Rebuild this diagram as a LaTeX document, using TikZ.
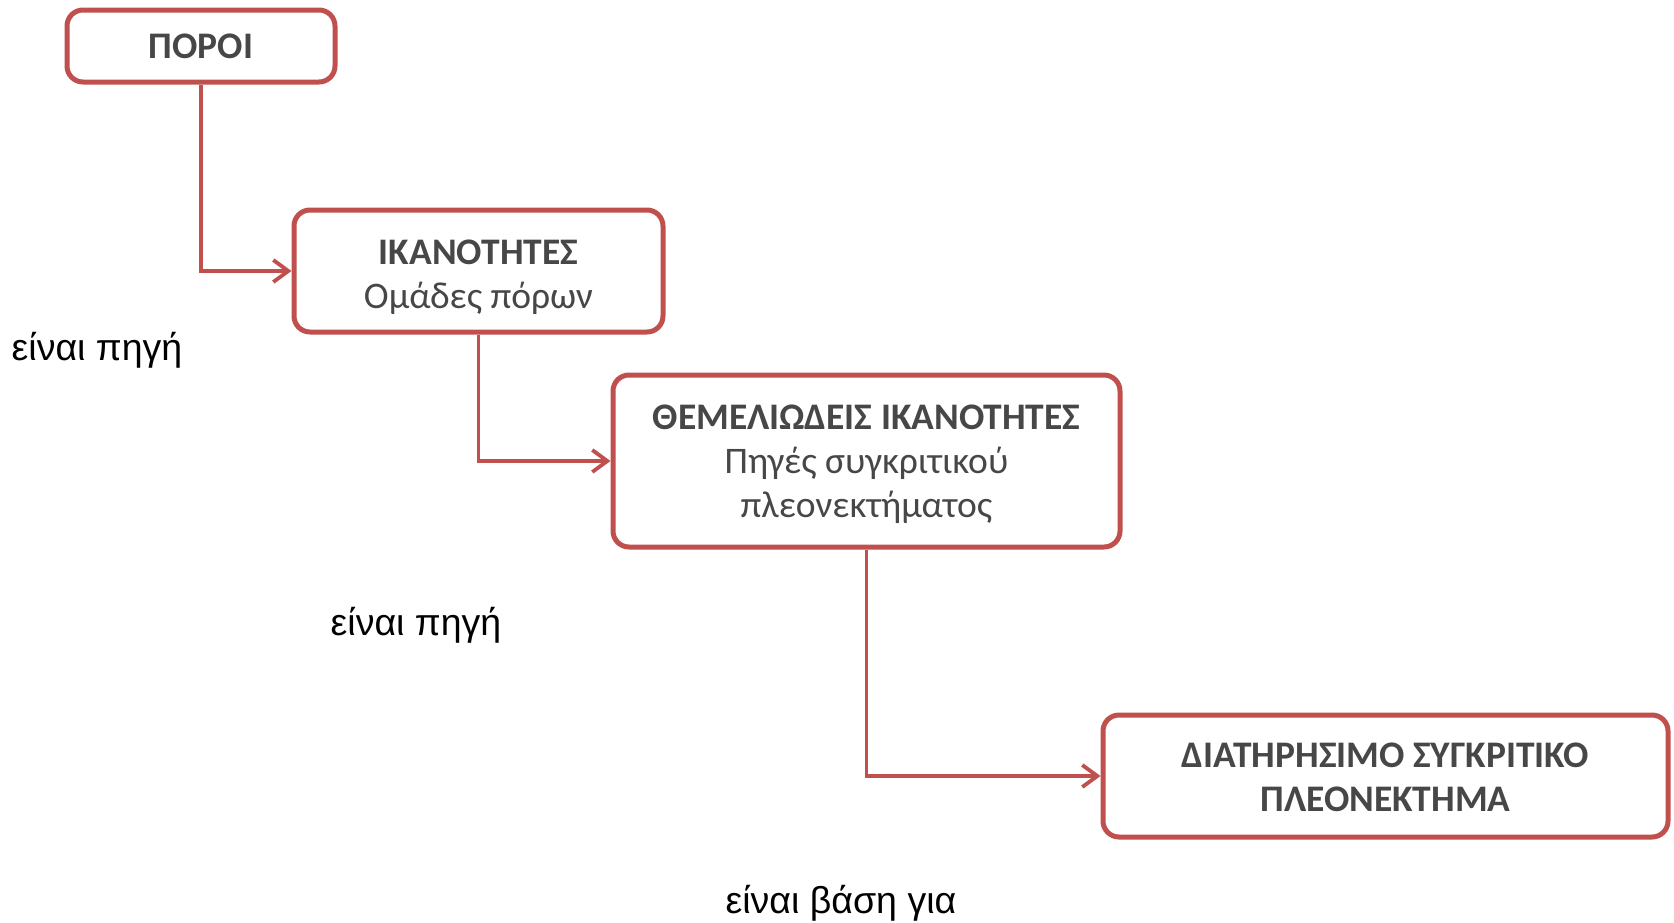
\documentclass[tikz,border=0pt]{standalone}
\usepackage{fontspec}
\setmainfont{Carlito}
\newfontfamily\arialf{Liberation Sans}
\usetikzlibrary{arrows.meta}
\definecolor{boxred}{HTML}{C0504D}
\definecolor{boxtext}{HTML}{474747}
\tikzset{
  box/.style={draw=boxred, line width=5pt, rounded corners=16pt, fill=white,
    inner sep=0pt},
  boxtxt/.style={align=center, text=boxtext, inner sep=0pt,
    font=\fontsize{37.5}{44}\selectfont},
  conn/.style={draw=boxred, line width=3.8pt,
    -{Straight Barb[length=15pt,width=22pt,line width=3.8pt]}},
  lbl/.style={font=\arialf\fontsize{37.5}{42}\selectfont, text=black, inner sep=0pt}
}
\begin{document}
\begin{tikzpicture}[x=1pt,y=-1pt]
\useasboundingbox (0,0) rectangle (1674,922);
\node[box, minimum width=268pt, minimum height=72pt] (b1) at (201,46) {};
\node[box, minimum width=369pt, minimum height=122pt] (b2) at (478.5,271) {};
\node[box, minimum width=507pt, minimum height=172pt] (b3) at (866.5,461) {};
\node[box, minimum width=565pt, minimum height=122pt] (b4) at (1385.5,776) {};
\node[boxtxt] (t1) at ([yshift=0pt]b1.center) {\textbf{ΠΟΡΟΙ}};
\node[boxtxt] (t2) at ([yshift=-6pt]b2.center) {\textbf{ΙΚΑΝΟΤΗΤΕΣ}\\Ομάδες πόρων};
\node[boxtxt] (t3) at ([yshift=-3.5pt]b3.center) {\textbf{ΘΕΜΕΛΙΩΔΕΙΣ ΙΚΑΝΟΤΗΤΕΣ}\\Πηγές συγκριτικού\\πλεονεκτήματος};
\node[boxtxt] (t4) at ([yshift=-1pt]b4.center) {\textbf{ΔΙΑΤΗΡΗΣΙΜΟ ΣΥΓΚΡΙΤΙΚΟ}\\\textbf{ΠΛΕΟΝΕΚΤΗΜΑ}};
\draw[conn] (b1.south) |- (b2.west);
\draw[conn] (b2.south) |- (b3.west);
\draw[conn] (b3.south) |- (b4.west);
\node[lbl] (l1) at (97,350) {είναι πηγή};
\node[lbl] (l2) at (416,625) {είναι πηγή};
\node[lbl] (l3) at (841,903) {είναι βάση για};
\end{tikzpicture}
\end{document}
